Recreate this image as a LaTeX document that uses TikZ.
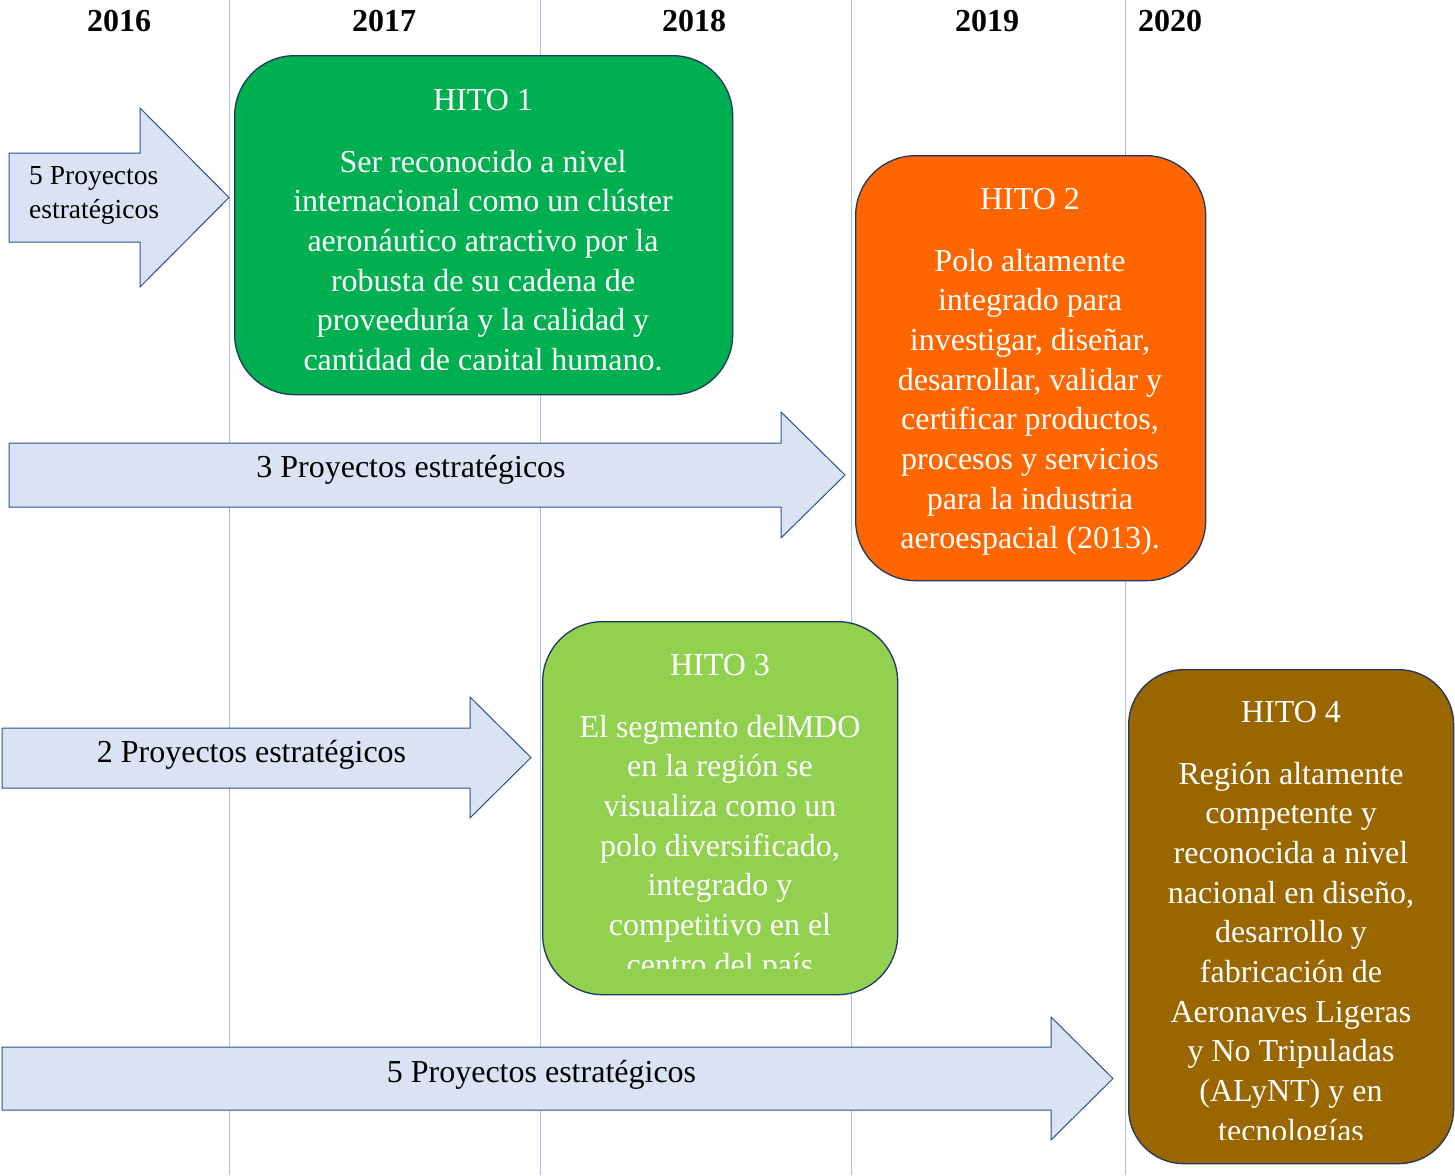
\documentclass[tikz,border=0pt]{standalone}
\usepackage{fontspec}
\setmainfont{Liberation Serif}
\definecolor{arrowfill}{HTML}{DAE3F3}
\definecolor{arrowdraw}{HTML}{2F528F}
\definecolor{gridline}{HTML}{A9BEE4}
\definecolor{boxdraw}{HTML}{203864}
\definecolor{hitoA}{HTML}{00B050}
\definecolor{hitoB}{HTML}{FF6600}
\definecolor{hitoC}{HTML}{92D050}
\definecolor{hitoD}{HTML}{996600}
\tikzset{
  gridl/.style={draw=gridline, line width=1pt},
  projarrow/.style={fill=arrowfill, draw=arrowdraw, line width=1pt, line join=miter},
  hitobox/.style={draw=boxdraw, line width=1.3pt, rounded corners=60pt, inner sep=0pt, anchor=north west},
  hitotext/.style={text=white, align=center, font=\fontsize{32}{39.7}\selectfont, inner sep=0pt, anchor=base},
  projtext/.style={font=\fontsize{32}{39}\selectfont, inner sep=0pt, anchor=base},
  yeartext/.style={font=\bfseries\fontsize{32}{38}\selectfont, inner sep=0pt, anchor=base}
}
\begin{document}
\begin{tikzpicture}[x=1pt, y=-1pt]
\useasboundingbox (0,0) rectangle (1455,1175);
\fill[white] (0,0) rectangle (1455,1175);

% year grid lines
\coordinate (g1t) at (229,0); \coordinate (g1b) at (229,1175);
\coordinate (g2t) at (540,0); \coordinate (g2b) at (540,1175);
\coordinate (g3t) at (851,0); \coordinate (g3b) at (851,1175);
\coordinate (g4t) at (1125,0); \coordinate (g4b) at (1125,1175);
\draw[gridl] (g1t) -- (g1b);
\draw[gridl] (g2t) -- (g2b);
\draw[gridl] (g3t) -- (g3b);
\draw[gridl] (g4t) -- (g4b);

% years
\node[yeartext] (y2016) at (119,31) {2016};
\node[yeartext] (y2017) at (384,31) {2017};
\node[yeartext] (y2018) at (694,31) {2018};
\node[yeartext] (y2019) at (987,31) {2019};
\node[yeartext] (y2020) at (1170,31) {2020};

% project arrows
\draw[projarrow] (9,153) -- (140,153) -- (140,108) -- (229,197.5) -- (140,287) -- (140,242) -- (9,242) -- cycle;
\draw[projarrow] (9,443) -- (781,443) -- (781,412) -- (845,475) -- (781,538) -- (781,507) -- (9,507) -- cycle;
\draw[projarrow] (2,728) -- (470,728) -- (470,697) -- (531,757.5) -- (470,818) -- (470,788) -- (2,788) -- cycle;
\draw[projarrow] (2,1047) -- (1051,1047) -- (1051,1017) -- (1113,1078.5) -- (1051,1140) -- (1051,1110) -- (2,1110) -- cycle;

% (multi-line nodes: base anchor = baseline of the last line)
\node[anchor=base west, align=left, inner sep=0pt, font=\fontsize{27.5}{34}\selectfont] (p1) at (29,218) {5 Proyectos\\estratégicos};
\node[projtext] (p2) at (411,477) {3 Proyectos estratégicos};
\node[projtext] (p3) at (251.5,762) {2 Proyectos estratégicos};
\node[projtext] (p4) at (541.5,1082) {5 Proyectos estratégicos};

% milestone boxes
\node[hitobox, fill=hitoA, minimum width=498pt, minimum height=339pt] (h1) at (234,55) {};
\node[hitobox, fill=hitoB, minimum width=350pt, minimum height=425pt] (h2) at (855,155) {};
\node[hitobox, fill=hitoC, minimum width=355pt, minimum height=373pt] (h3) at (542,621) {};
\node[hitobox, fill=hitoD, minimum width=325pt, minimum height=494pt, rounded corners=55pt] (h4) at (1128,669) {};

\begin{scope}
\clip (234,55) rectangle (732,369);
\node[hitotext] (t1) at (483,370.5) {HITO 1\\[22.3pt]Ser reconocido a nivel\\internacional como un clúster\\aeronáutico atractivo por la\\robusta de su cadena de\\proveeduría y la calidad y\\cantidad de capital humano.};
\end{scope}

\node[hitotext] (t2) at (1030,548.9) {HITO 2\\[22.3pt]Polo altamente\\integrado para\\investigar, diseñar,\\desarrollar, validar y\\certificar productos,\\procesos y servicios\\para la industria\\aeroespacial (2013).};

\begin{scope}
\clip (542,621) rectangle (897,968);
\node[hitotext] (t3) at (720,975.2) {HITO 3\\[22.3pt]El segmento delMDO\\en la región se\\visualiza como un\\polo diversificado,\\integrado y\\competitivo en el\\centro del país};
\end{scope}

\begin{scope}
\clip (1128,669) rectangle (1453,1139);
\node[hitotext] (t4) at (1291,1141.3) {HITO 4\\[22.3pt]Región altamente\\competente y\\reconocida a nivel\\nacional en diseño,\\desarrollo y\\fabricación de\\Aeronaves Ligeras\\y No Tripuladas\\(ALyNT) y en\\tecnologías};
\end{scope}
\end{tikzpicture}
\end{document}
